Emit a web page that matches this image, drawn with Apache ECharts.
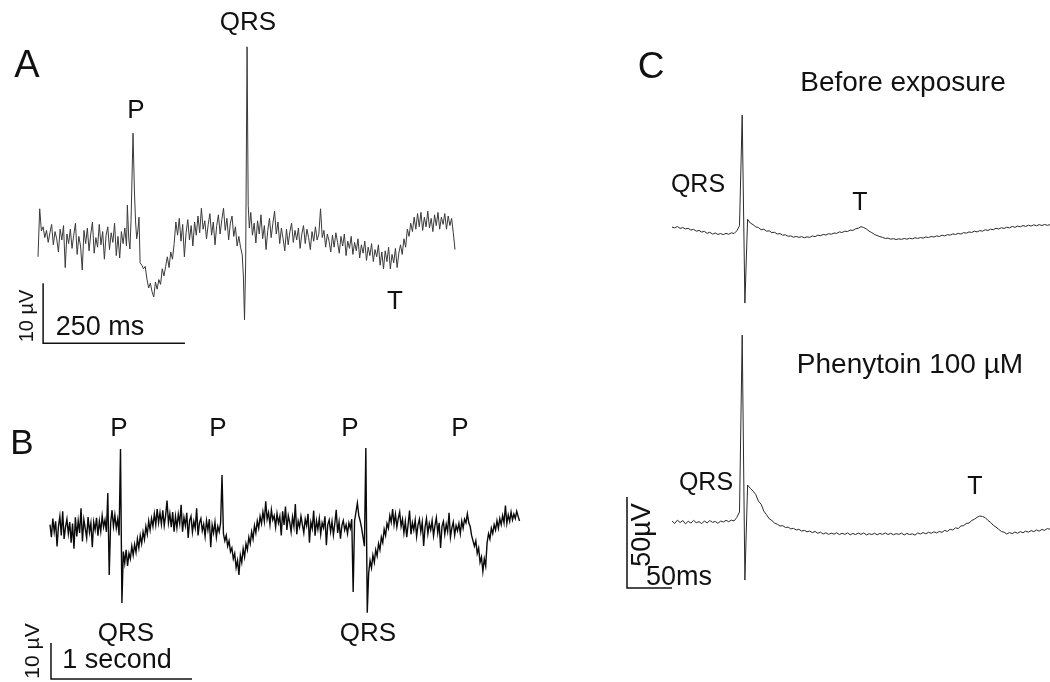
<!DOCTYPE html>
<html><head><meta charset="utf-8">
<script src="https://cdn.jsdelivr.net/npm/echarts@6/dist/echarts.min.js"></script>
<style>html,body{margin:0;padding:0;background:#fff}#c{width:1050px;height:682px}</style>
</head><body><div id="c"></div>
<script>
// ---------- Panel A: single beat, [time ms, amplitude µV] ----------
const traceA = [
[0,-2.8],[3,5.2],[6,1.5],[9,2.2],[12,0.4],[15,1.6],[18,-0.4],[21,1.2],[24,2.6],[27,-0.8],
[30,1.4],[33,0.2],[36,-2.0],[39,1.8],[42,0.0],[45,2.4],[48,-4.6],[51,1.0],[54,-0.6],[57,1.8],
[60,-1.4],[63,0.8],[66,2.8],[69,-2.4],[72,0.6],[75,-1.0],[78,-5.0],[81,1.6],[84,-0.6],[87,2.0],
[90,-1.8],[93,1.0],[96,3.0],[99,-2.2],[102,0.4],[105,-1.2],[108,2.6],[111,-0.8],[114,1.4],[117,-3.2],
[120,0.8],[123,2.2],[126,-1.6],[129,1.2],[132,-0.4],[135,2.8],[138,-2.6],[141,0.6],[144,-3.0],[147,1.4],
[150,-0.6],[153,2.0],[156,-1.0],[157.5,5.8],[160,0.2],[162,-1.5],[164,3.2],[167.5,17.8],[170,8.0],[172,3.0],
[174,0.2],[176,1.5],[178,3.8],[180,-3.8],[183,-4.2],[186,-4.8],[189,-4.4],[192,-6.5],[195,-8.0],[198,-7.2],
[201,-8.6],[204,-9.5],[207,-7.0],[210,-8.2],[213,-6.6],[216,-7.4],[219,-4.8],[222,-6.0],[225,-4.4],[228,-2.8],
[231,-4.6],[234,-2.0],[237,-3.2],[240,-0.6],[243,3.0],[246,0.8],[249,3.6],[252,-0.2],[255,2.6],[258,-2.8],
[261,1.2],[264,3.4],[267,0.0],[270,2.4],[273,-1.0],[276,3.0],[279,0.8],[282,4.0],[285,1.2],[288,5.3],
[291,1.8],[294,3.2],[297,0.2],[300,2.6],[303,4.4],[306,0.8],[309,3.0],[312,-0.8],[315,2.4],[318,4.2],
[321,1.0],[324,3.4],[327,5.3],[330,1.6],[333,3.6],[336,0.0],[339,2.8],[342,4.0],[345,0.6],[348,2.2],
[351,-1.0],[354,0.6],[357,-1.2],[360,-2.5],[362,-6.0],[364,-13.3],[366,-4.0],[368.5,32.2],[370.5,5.8],[372.5,2.0],
[375,4.6],[378,0.8],[381,2.8],[384,-0.5],[387,3.2],[390,1.0],[393,4.2],[396,0.2],[399,2.4],[402,-1.6],
[405,1.6],[408,3.6],[411,0.4],[414,2.8],[417,4.8],[420,1.0],[423,3.0],[426,-0.6],[429,2.0],[432,0.2],
[435,-1.8],[438,1.8],[441,-0.8],[444,1.4],[447,2.8],[450,-0.4],[453,1.6],[456,0.0],[459,2.0],[462,-1.4],
[465,1.0],[468,2.4],[471,-0.6],[474,1.8],[477,0.4],[480,-1.6],[483,1.4],[486,-0.2],[489,2.2],[492,0.0],
[495,1.0],[498,5.2],[501,0.4],[504,1.6],[507,-1.2],[510,1.0],[513,-0.2],[516,-2.0],[519,0.8],[522,-1.2],
[525,1.2],[528,-0.4],[531,-2.2],[534,0.6],[537,-1.0],[540,1.0],[543,-2.6],[546,-0.2],[549,-1.4],[552,0.6],
[555,-2.4],[558,-0.4],[561,-1.8],[564,0.2],[567,-3.0],[570,-0.8],[573,-2.2],[576,-0.2],[579,-3.4],[582,-1.2],
[585,-2.6],[588,-0.6],[591,-3.6],[594,-1.6],[597,-2.8],[600,-0.8],[603,-4.2],[606,-2.0],[609,-4.8],[612,-1.8],
[615,-3.6],[618,-1.2],[621,-4.8],[624,-2.4],[627,-3.8],[630,-1.4],[633,-4.6],[636,-2.2],[639,-0.8],[642,-2.4],
[645,0.2],[648,-1.2],[651,1.8],[654,0.6],[657,2.8],[660,1.4],[663,3.8],[666,1.8],[669,4.4],[672,2.2],
[675,4.6],[678,1.6],[681,3.8],[684,2.2],[687,4.8],[690,2.0],[693,3.6],[696,1.4],[699,4.2],[702,2.4],
[705,4.6],[708,1.8],[711,3.8],[714,2.6],[717,4.4],[720,1.8],[723,4.0],[726,2.4],[729,3.6],[732,1.2],
[735,-1.6]
];
const scaleA = { t0: 9, v0: -17.2, dt: 250, dv: 10 }; // 250 ms, 10 µV

// ---------- Panel B: long recording, sampled every 10 ms, µV ----------
const traceB_dt = 0.01; // seconds
const traceB = [
1.5,-2.0,3.2,-0.5,2.4,-4.6,1.0,3.8,-1.5,5.2,
-2.5,0.8,3.0,-1.0,2.2,-3.5,1.8,-5.2,3.5,-1.8,
2.6,-0.8,6.0,-3.2,2.9,0.4,-2.2,3.6,-0.6,1.9,
-4.8,2.2,0.0,3.4,-1.6,2.5,-0.4,4.0,0.8,2.8,
-0.5,10.3,-12.5,2.0,5.5,1.0,4.2,0.5,3.0,-1.5,
22.5,-20.3,-6.0,-9.2,-5.5,-10.0,-6.5,-8.0,-4.5,-7.0,
-4.0,-6.2,-2.5,-5.0,-1.5,-3.8,-0.5,-2.6,1.0,-1.2,
2.5,0.0,3.2,1.0,4.5,1.5,5.8,2.0,4.8,1.6,
5.5,1.2,4.0,8.2,2.0,4.6,0.8,5.0,-0.5,3.8,
0.6,4.4,1.8,7.0,-0.5,3.5,1.2,4.8,-2.2,2.6,
3.8,-0.6,2.4,0.5,6.0,-1.5,2.0,3.2,-0.2,1.6,
-1.8,2.6,0.0,3.0,-4.8,1.4,-0.8,2.2,-2.0,1.0,
-0.5,2.0,15.3,-1.0,-3.0,-1.5,-4.5,-3.0,-6.0,-5.0,
-8.0,-6.5,-10.5,-8.5,-12.5,-7.0,-9.0,-5.2,-7.5,-3.8,
-5.5,-2.0,-3.8,-0.5,-2.5,1.2,-0.8,2.5,0.5,3.8,
1.8,5.0,2.4,8.0,3.0,4.8,1.5,5.6,2.8,4.0,
0.8,4.6,2.0,3.8,-1.5,5.2,1.4,6.5,0.0,4.0,
2.2,-0.5,3.6,1.0,7.2,-1.2,2.5,0.8,3.8,1.5,
-0.8,3.0,1.2,4.5,-3.5,2.2,0.4,5.4,-1.6,2.6,
0.2,3.2,-1.2,2.0,0.6,3.8,-4.2,1.5,2.8,-0.5,
2.4,-1.4,1.8,5.6,-0.8,2.2,-2.4,1.2,2.6,0.0,
1.5,-1.0,2.0,0.5,3.0,-17.2,2.5,5.0,7.5,4.0,
2.5,0.5,-2.0,-4.5,22.8,-23.0,-12.0,-8.5,-10.5,-7.0,
-9.0,-5.5,-7.2,-3.8,-5.5,-2.0,-3.5,0.2,-1.5,1.8,
0.5,4.0,2.2,5.8,1.5,4.4,0.8,3.2,5.0,1.0,
3.0,-0.8,2.4,-2.0,1.6,5.4,-1.2,2.0,0.0,2.8,
-1.8,1.4,3.0,-0.5,2.2,-4.4,0.8,3.2,-1.0,1.8,
0.0,2.6,-1.6,1.2,3.4,-0.8,2.0,-5.0,1.0,2.4,
-1.2,1.6,-0.4,4.8,-2.0,0.6,2.2,-1.4,1.2,-0.2,
1.8,-1.0,2.5,0.5,3.0,2.0,4.5,2.0,1.0,-1.5,
-2.0,-4.5,-3.0,-6.5,-5.0,-9.0,-7.5,-11.5,-8.0,-10.0,
-3.5,-1.0,-2.5,0.5,-1.0,1.5,0.0,2.6,0.5,3.2,
1.5,4.0,2.0,6.8,1.8,4.2,2.4,5.0,2.8,4.4,
3.2,5.2,3.8,2.5
];
const scaleB = { t0: 0.007, v0: -41.4, dt: 1, dv: 10 }; // 1 s, 10 µV

// ---------- Panel C: sampled every 3 ms, µV ----------
const traceC_dt = 3; // ms
const traceC_before = [
3.3,2.8,3.6,2.5,3.0,2.2,2.6,1.6,2.0,1.0,
1.4,0.5,0.9,-0.2,0.4,-0.6,0.0,-0.8,-0.3,-0.9,
-0.2,-0.7,0.1,-0.3,1.2,4.0,64.8,-38.5,7.5,5.5,
4.6,3.4,3.0,1.8,2.1,1.0,1.2,0.2,0.4,-0.6,
-0.3,-1.2,-1.0,-1.8,-1.6,-2.3,-1.9,-2.4,-2.0,-2.6,
-2.1,-2.4,-1.6,-2.0,-1.2,-1.5,-0.8,-1.1,-0.4,-0.7,
0.0,-0.2,0.6,0.3,1.0,0.8,1.6,1.4,2.3,2.6,
3.5,3.0,2.2,1.0,0.2,-0.8,-1.4,-2.0,-2.4,-3.0,
-2.8,-3.4,-3.1,-3.6,-3.2,-3.5,-3.0,-3.4,-2.9,-3.2,
-2.6,-3.0,-2.5,-2.8,-2.2,-2.5,-1.9,-2.2,-1.6,-1.9,
-1.2,-1.6,-0.9,-1.2,-0.5,-0.8,-0.2,-0.6,0.2,-0.1,
0.6,0.3,1.0,0.6,1.3,1.0,1.8,1.4,2.1,1.8,
2.6,2.2,2.9,2.5,3.2,2.8,3.6,3.1,3.8,3.4,
4.1,3.6,4.3,3.8,4.5,4.0,4.6,4.1,4.7,4.2,
4.6
];
const traceC_phenytoin = [
0.5,-0.8,1.0,-0.3,0.8,-1.0,0.4,-0.6,0.9,-0.4,
0.2,-0.9,0.6,-0.5,0.8,-0.2,0.3,-0.7,0.5,0.0,
0.9,0.2,1.0,0.6,2.5,5.5,102.7,-31.9,20.3,18.5,
17.0,15.2,11.5,9.8,6.0,4.0,1.8,0.8,-0.6,-1.2,
-2.2,-2.0,-3.0,-2.8,-3.8,-3.5,-4.4,-4.0,-5.0,-4.6,
-5.4,-5.0,-5.8,-5.2,-6.2,-5.6,-6.6,-5.9,-6.8,-6.1,
-6.7,-5.9,-6.9,-6.2,-6.8,-6.0,-7.0,-6.3,-6.9,-6.1,
-6.8,-6.0,-7.1,-6.4,-6.9,-6.2,-7.0,-6.3,-6.8,-6.0,
-6.9,-6.2,-7.0,-6.4,-6.8,-6.1,-7.1,-6.3,-6.9,-6.5,
-7.2,-6.0,-6.6,-5.8,-6.5,-5.6,-6.2,-5.4,-6.0,-5.2,
-5.7,-4.6,-5.2,-4.0,-4.4,-3.2,-3.6,-2.2,-2.0,-0.8,
-0.6,0.8,1.5,2.6,3.3,3.0,2.4,0.9,-0.2,-1.8,
-2.8,-4.0,-5.2,-5.6,-6.6,-5.8,-6.4,-5.5,-6.2,-5.3,
-5.9,-5.0,-5.6,-4.7,-5.3,-4.4,-5.0,-4.1,-4.6,-3.6,
-4.0
];
const scaleC = { t0: -50, v0: -36.3, dt: 50, dv: 50 }; // 50 ms, 50 µV

// ---------- build ----------
const FONT = '"Liberation Sans", Arial, Helvetica, sans-serif';
const INK = '#111';
const toPairs = (vals, dt) => vals.map((v, i) => [+(i * dt).toFixed(4), v]);
const scalePath = s => [[s.t0, s.v0 + s.dv], [s.t0, s.v0], [s.t0 + s.dt, s.v0]];

const axX = (i, min, max) => ({ type: 'value', gridIndex: i, min, max, show: false });
const axY = (i, min, max) => ({ type: 'value', gridIndex: i, min, max, show: false });

const lineSeries = (i, data, color, w) => ({
  type: 'line', xAxisIndex: i, yAxisIndex: i, data, showSymbol: false, symbol: 'none',
  smooth: false, clip: false, animation: false, silent: true,
  lineStyle: { color, width: w, join: 'miter' }
});

function txt(x, y, s, size, rot) {
  return { type: 'text', x, y, rotation: rot || 0, silent: true,
    style: { x: 0, y: 0, text: s, fontSize: size, fontFamily: FONT, fill: INK,
      textAlign: 'center', textVerticalAlign: 'middle' } };
}
const R = Math.PI / 2;

const chart = echarts.init(document.getElementById('c'), null, { renderer: 'canvas' });
chart.setOption({
  backgroundColor: '#ffffff',
  animation: false,
  grid: [
    { left: 38, top: 30, width: 417, height: 330 },      // A
    { left: 50, top: 422, width: 470, height: 260 },     // B
    { left: 627, top: 105.6, width: 423, height: 209.3 },// C before
    { left: 627, top: 321.8, width: 423, height: 273 }   // C phenytoin
  ],
  xAxis: [axX(0, 0, 735), axX(1, 0, 3.3333), axX(2, -50, 420), axX(3, -50, 420)],
  yAxis: [axY(0, -20, 35), axY(1, -42.2222, 30), axY(2, -45, 70), axY(3, -40, 110)],
  series: [
    lineSeries(0, traceA, '#3a3a3a', 1),
    lineSeries(0, scalePath(scaleA), INK, 1.5),
    lineSeries(1, toPairs(traceB, traceB_dt), '#0a0a0a', 1.4),
    lineSeries(1, scalePath(scaleB), INK, 1.5),
    lineSeries(2, toPairs(traceC_before, traceC_dt), '#2a2a2a', 1),
    lineSeries(3, toPairs(traceC_phenytoin, traceC_dt), '#2a2a2a', 1),
    lineSeries(3, scalePath(scaleC), INK, 1.5)
  ],
  graphic: [
    // Panel A
    txt(27, 67, 'A', 38), txt(136, 111, 'P', 26), txt(248, 23, 'QRS', 26), txt(395, 302, 'T', 26),
    txt(27, 316, '10 µV', 20, R), txt(100, 328, '250 ms', 27),
    // Panel B
    txt(22, 444, 'B', 35),
    txt(119, 429, 'P', 26), txt(218, 429, 'P', 26), txt(350, 429, 'P', 26), txt(460, 429, 'P', 26),
    txt(126, 634, 'QRS', 26), txt(368, 634, 'QRS', 26),
    txt(33, 651, '10 µV', 21, R), txt(117, 661, '1 second', 27),
    // Panel C
    txt(651, 68, 'C', 37), txt(903, 83, 'Before exposure', 28),
    txt(698, 185, 'QRS', 25), txt(860, 203, 'T', 25),
    txt(910, 365, 'Phenytoin 100 µM', 28),
    txt(706, 483, 'QRS', 25), txt(975, 487, 'T', 25),
    txt(643, 535, '50µV', 27, R), txt(679, 578, '50ms', 27)
  ]
});
</script></body></html>
